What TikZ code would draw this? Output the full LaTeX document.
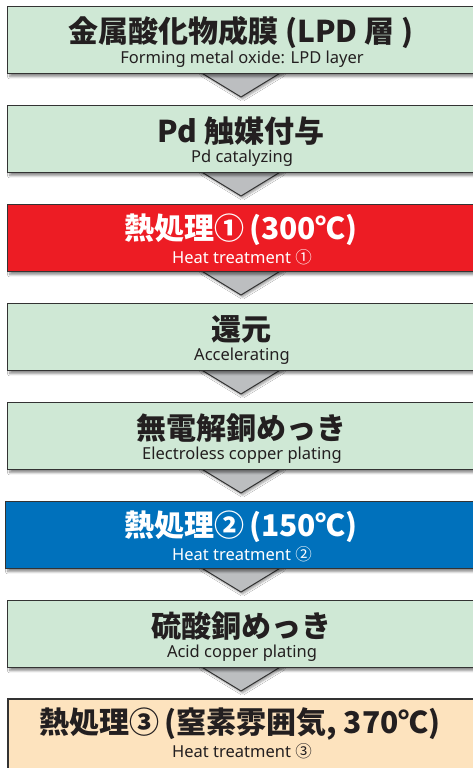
\documentclass[tikz,border=0pt]{standalone}
\usepackage{fontspec}
\setmainfont{Noto Sans CJK JP}
\newfontfamily\jp{Noto Sans CJK JP}
\newfontfamily\lat{Noto Sans}
\usetikzlibrary{shadows.blur}
\definecolor{mint}{HTML}{CFE8D5}
\definecolor{hred}{HTML}{ED1C24}
\definecolor{hblue}{HTML}{0071BC}
\definecolor{peach}{HTML}{FDE3BE}
\definecolor{ink}{HTML}{231F20}
\definecolor{tri}{HTML}{BCBEC0}
\definecolor{edge}{HTML}{333333}
\newcommand{\cn}[1]{{\jp #1}}
\tikzset{
  stepbox/.style={draw=edge, line width=1.4pt, minimum width=473pt, minimum height=67pt,
    anchor=north west, inner sep=0pt,
    blur shadow={shadow xshift=2pt, shadow yshift=-3pt, shadow blur steps=6, shadow opacity=45}},
  title/.style={font=\jp\bfseries\fontsize{30}{32}\selectfont, anchor=center},
  sub/.style={font=\lat\fontsize{16.5}{18}\selectfont, anchor=center},
  arrowtri/.style={draw=edge, fill=tri, line width=1pt, line join=miter,
    blur shadow={shadow xshift=1.5pt, shadow yshift=-2pt, shadow blur steps=5, shadow opacity=40}},
}
\begin{document}
\begin{tikzpicture}[x=1pt,y=-1pt]
\useasboundingbox[fill=white] (0,0) rectangle (473,768);
\foreach \t in {6,105,204,303,402,501,600} {
  \path[arrowtri] (200,\t+66) -- (282,\t+66) -- (241,\t+91) -- cycle;
}
\node[stepbox, fill=mint] (b1) at (7,6) {};
\node[stepbox, fill=mint] (b2) at (7,105) {};
\node[stepbox, fill=hred] (b3) at (7,204) {};
\node[stepbox, fill=mint] (b4) at (7,303) {};
\node[stepbox, fill=mint] (b5) at (7,402) {};
\node[stepbox, fill=hblue] (b6) at (5,501) {};
\node[stepbox, fill=mint] (b7) at (7,600) {};
\node[stepbox, fill=peach, line width=2.4pt, minimum height=70pt] (b8) at (7,698) {};
\node[title, text=ink] (t1) at (241,32) {金属酸化物成膜 (LPD 層 )};
\node[sub, text=ink] (s1) at (242,59.5) {Forming metal oxide: LPD layer};
\node[title, text=ink] (t2) at (241,131) {Pd 触媒付与};
\node[sub, text=ink] (s2) at (242,158.5) {Pd catalyzing};
\node[title, text=white] (t3) at (241,230) {熱処理①\,(300℃)};
\node[sub, text=white] (s3) at (242,257.5) {Heat treatment \cn{①}};
\node[title, text=ink] (t4) at (241,329) {還元};
\node[sub, text=ink] (s4) at (242,356.5) {Accelerating};
\node[title, text=ink] (t5) at (241,428) {無電解銅めっき};
\node[sub, text=ink] (s5) at (242,455.5) {Electroless copper plating};
\node[title, text=white] (t6) at (241,527) {熱処理②\,(150℃)};
\node[sub, text=white] (s6) at (242,554.5) {Heat treatment \cn{②}};
\node[title, text=ink] (t7) at (241,626) {硫酸銅めっき};
\node[sub, text=ink] (s7) at (242,653.5) {Acid copper plating};
\node[title, text=ink] (t8) at (240,724) {熱処理③\,(窒素雰囲気, 370℃)};
\node[sub, text=ink] (s8) at (242,751.5) {Heat treatment \cn{③}};
\end{tikzpicture}
\end{document}
